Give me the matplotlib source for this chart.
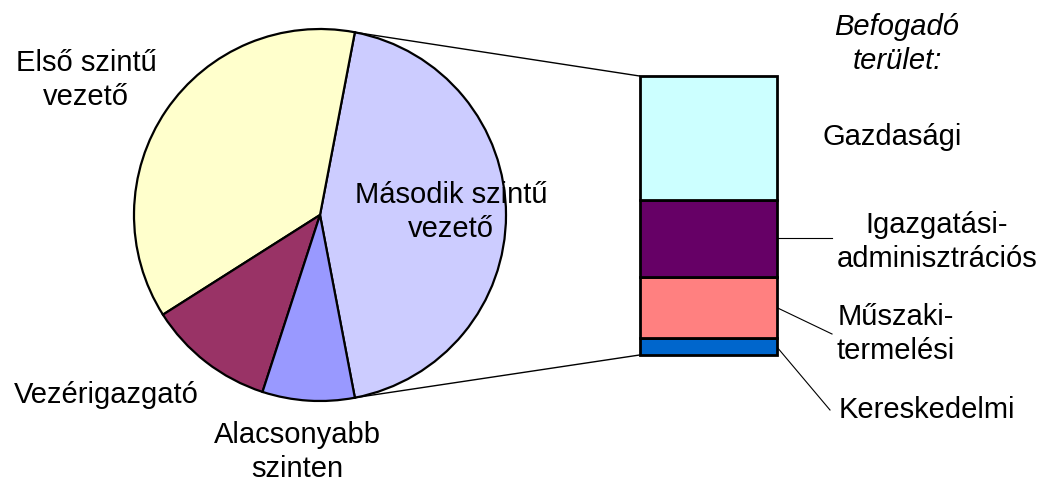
import numpy as np
import matplotlib.pyplot as plt

plt.rcParams['font.family'] = ['Liberation Sans', 'DejaVu Sans']

# pie: share of managers by level (percent)
pie_labels = ['Második szintű\nvezető', 'Első szintű\nvezető', 'Vezérigazgató', 'Alacsonyabb\nszinten']
pie_values = [44, 37, 11, 8]
pie_colors = ['#CCCCFF', '#FFFFCC', '#993366', '#9999FF']

# bar: breakdown of "Második szintű vezető" by receiving area (percent)
bar_labels = ['Kereskedelmi', 'Műszaki-\ntermelési', 'Igazgatási-\nadminisztrációs', 'Gazdasági']
bar_values = [6.1, 21.9, 27.6, 44.4]
bar_colors = ['#0066CC', '#FF8080', '#660066', '#CCFFFF']

W, H = 1052, 484
fig = plt.figure(figsize=(W / 100, H / 100), dpi=100)
ax = fig.add_axes([0, 0, 1, 1])

# pie
cx, cy, r = 320, H - 215, 186
split = 360 * pie_values[0] / sum(pie_values)
start = -split / 2
ax.pie(pie_values, colors=pie_colors, startangle=start, center=(cx, cy), radius=r,
       counterclock=True, wedgeprops=dict(edgecolor='black', linewidth=1.6))

# stacked bar
bx, bw = 708, 137
bar_top, bar_bot = H - 76, H - 355
scale = (bar_top - bar_bot) / sum(bar_values)
bottoms = bar_bot + scale * np.concatenate([[0], np.cumsum(bar_values)[:-1]])
heights = scale * np.array(bar_values)
ax.bar(bx, heights, bottom=bottoms, width=bw, color=bar_colors,
       edgecolor='black', linewidth=2, zorder=3)

# connectors pie -> bar
for ang, by in [(start + split, bar_top), (start, bar_bot)]:
    a = np.radians(ang)
    ax.plot([cx + r * np.cos(a), bx - bw / 2], [cy + r * np.sin(a), by],
            color='black', lw=1, zorder=1)

fs = 21
txt = dict(fontsize=fs, ha='center', va='center', linespacing=1.3)

# pie labels
ax.text(86, H - 80, pie_labels[1], **txt)
ax.text(451, H - 212, pie_labels[0], **txt)
ax.text(106, H - 395, pie_labels[2], **txt)
ax.text(297, H - 452, pie_labels[3], **txt)

# bar labels
ax.text(897, H - 44, 'Befogadó\nterület:', style='italic', **txt)
ax.text(892, H - 137, bar_labels[3], **txt)
ax.text(937, H - 242, bar_labels[2], **txt)
ax.text(896, H - 334, bar_labels[1], **txt)
ax.text(927, H - 410, bar_labels[0], **txt)

# leader lines
mids = bottoms + heights / 2
right = bx + bw / 2
ax.plot([right, 832], [mids[2], mids[2]], color='black', lw=0.8)
ax.plot([right, 832], [mids[1], H - 334], color='black', lw=0.8)
ax.plot([right, 830], [mids[0], H - 410], color='black', lw=0.8)

ax.set_xlim(0, W)
ax.set_ylim(0, H)
ax.set_aspect('auto')
ax.axis('off')

fig.savefig('out.png', dpi=100)
